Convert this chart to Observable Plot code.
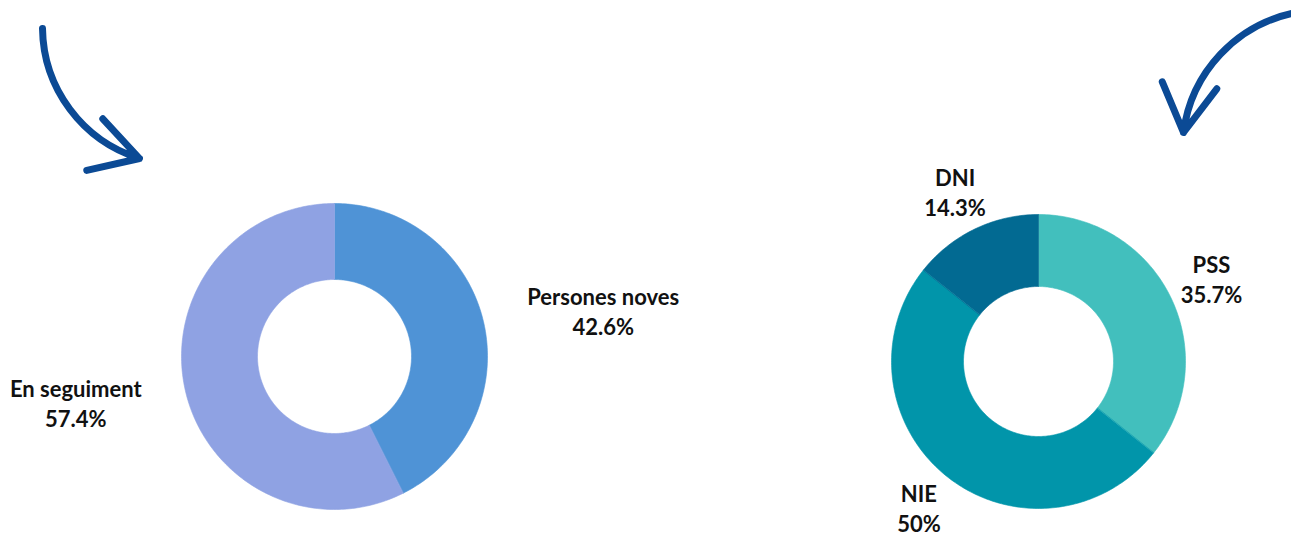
<!DOCTYPE html>
<html><head><meta charset="utf-8">
<script src="https://cdn.jsdelivr.net/npm/d3@7"></script>
<script src="https://cdn.jsdelivr.net/npm/@observablehq/plot@0.6"></script>
<style>body{margin:0;background:#fff;} #chart svg{display:block;}</style>
</head><body><div id="chart"></div>
<script>
// ---- data ----
const leftCategories = ["Persones noves", "En seguiment"];
const leftValues = [42.6, 57.4];
const leftColors = ["#4f93d6", "#8fa2e3"];
const rightCategories = ["PSS", "NIE", "DNI"];
const rightValues = [35.7, 50, 14.3];
const rightColors = ["#42bfbd", "#0195aa", "#026a92"];

// ---- layout ----
const W = 1291, H = 536;
const donuts = [
  {cats: leftCategories, vals: leftValues, cx: 334, cy: 356, r: 153, r0: 77, lcx: 339, lcy: 356, lrx: 271, lry: 200},
  {cats: rightCategories, vals: rightValues, cx: 1038, cy: 361, r: 147, r0: 75, lcx: 1038, lcy: 360, lrx: 192, lry: 188}
];

const slicePts = [];
const labels = [];
const rad = d => d * Math.PI / 180;
for (const d of donuts) {
  const total = d3.sum(d.vals);
  let acc = 0;
  d.cats.forEach((c, i) => {
    const a0 = acc / total * 360;
    acc += d.vals[i];
    const a1 = acc / total * 360;
    const n = Math.max(2, Math.ceil(a1 - a0));
    for (let k = 0; k <= n; k++) {
      const a = rad(a0 + (a1 - a0) * k / n);
      slicePts.push({key: c, x: d.cx + d.r * Math.sin(a), y: d.cy - d.r * Math.cos(a)});
    }
    for (let k = n; k >= 0; k--) {
      const a = rad(a0 + (a1 - a0) * k / n);
      slicePts.push({key: c, x: d.cx + d.r0 * Math.sin(a), y: d.cy - d.r0 * Math.cos(a)});
    }
    const am = rad((a0 + a1) / 2);
    labels.push({text: c + "\n" + d.vals[i] + "%", x: d.lcx + d.lrx * Math.sin(am), y: d.lcy - d.lry * Math.cos(am)});
  });
}

const arrowColor = "#0b4a95";
const arrows = [
  {x1: 42, y1: 28, x2: 139, y2: 158},
  {x1: 1296, y1: 12, x2: 1183, y2: 132}
];

const chart = Plot.plot({
  width: W, height: H, margin: 0,
  x: {domain: [0, W], range: [0, W], axis: null},
  y: {domain: [0, H], range: [0, H], axis: null},
  color: {domain: [...leftCategories, ...rightCategories], range: [...leftColors, ...rightColors]},
  style: {fontFamily: "Lato, sans-serif", background: "#fff"},
  marks: [
    Plot.line(slicePts, {x: "x", y: "y", z: "key", fill: "key", stroke: "key", strokeWidth: 0.6, curve: "linear-closed"}),
    Plot.text(labels, {x: "x", y: "y", text: "text", fontSize: 22, fontWeight: "bold", fontFamily: "Lato, sans-serif", lineHeight: 1.36, fill: "#111"}),
    Plot.arrow(arrows, {x1: "x1", y1: "y1", x2: "x2", y2: "y2", bend: -36, stroke: arrowColor, strokeWidth: 7, headLength: 20})
  ]
});
document.getElementById("chart").append(chart);
</script>
</body></html>
